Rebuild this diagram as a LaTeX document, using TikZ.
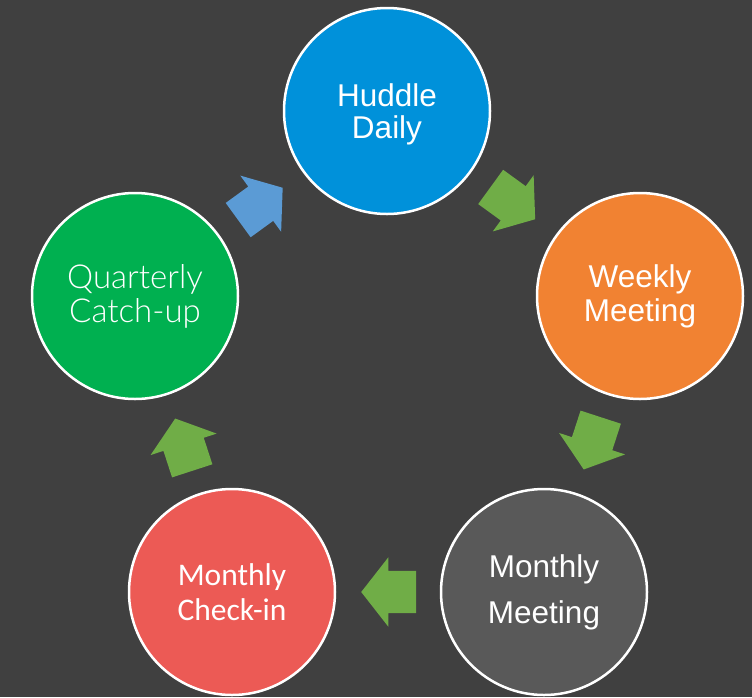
\documentclass[tikz,border=0pt]{standalone}
\usepackage{fontspec}
\setmainfont{Liberation Sans}
\newfontfamily\calfont{Carlito}
\newfontfamily\avfont{Lato Light}
\usepackage{xcolor}
\usetikzlibrary{shapes.arrows,calc}
\definecolor{bgdark}{HTML}{404040}
\definecolor{huddleblue}{HTML}{0091DA}
\definecolor{weekorange}{HTML}{F18232}
\definecolor{meetgray}{HTML}{595959}
\definecolor{checkred}{HTML}{EC5A55}
\definecolor{quartgreen}{HTML}{00B050}
\definecolor{flowgreen}{HTML}{70AD47}
\definecolor{flowblue}{HTML}{5B9BD5}
\tikzset{
  stage/.style={circle,draw=white,line width=2.5pt,minimum size=206pt,inner sep=0pt,text=white,align=center},
  flow/.style={single arrow,draw=none,fill=flowgreen,minimum height=55pt,minimum width=69pt,
    single arrow head extend=13.5pt,single arrow tip angle=104,inner xsep=0pt,inner ysep=21pt}
}

\begin{document}
\begin{tikzpicture}[x=1pt,y=-1pt]
  \fill[bgdark] (0,0) rectangle (752,697);
  % the five meetings
  \node[stage,fill=huddleblue,text depth=0pt,font=\fontsize{31.5}{32}\selectfont] (huddle) at (387,111) {Huddle\\Daily};
  \node[stage,fill=weekorange,font=\fontsize{31.5}{34}\selectfont] (weekly) at (640,296) {Weekly\\Meeting};
  \node[stage,fill=meetgray,font=\fontsize{31.5}{46}\selectfont] (monthmeet) at (544,592) {Monthly\\Meeting};
  \node[stage,fill=checkred,font=\calfont\fontsize{31.5}{35}\selectfont] (checkin) at (232,592) {Monthly\\Check-in};
  \node[stage,fill=quartgreen,font=\avfont\fontsize{33}{34}\selectfont] (quarterly) at (135,296) {Quarterly\\Catch-up};
  % block arrows round the cycle
  \node[flow,rotate=-36,xshift=-9pt] (hw) at ($(huddle)!0.5!(weekly)$) {};
  \node[flow,rotate=-108,xshift=-9pt] (wm) at ($(weekly)!0.5!(monthmeet)$) {};
  \node[flow,rotate=180,xshift=-9pt] (mc) at ($(monthmeet)!0.5!(checkin)$) {};
  \node[flow,rotate=108,xshift=-9pt] (cq) at ($(checkin)!0.5!(quarterly)$) {};
  \node[flow,fill=flowblue,rotate=36,xshift=-9pt] (qh) at ($(quarterly)!0.5!(huddle)$) {};
\end{tikzpicture}
\end{document}
